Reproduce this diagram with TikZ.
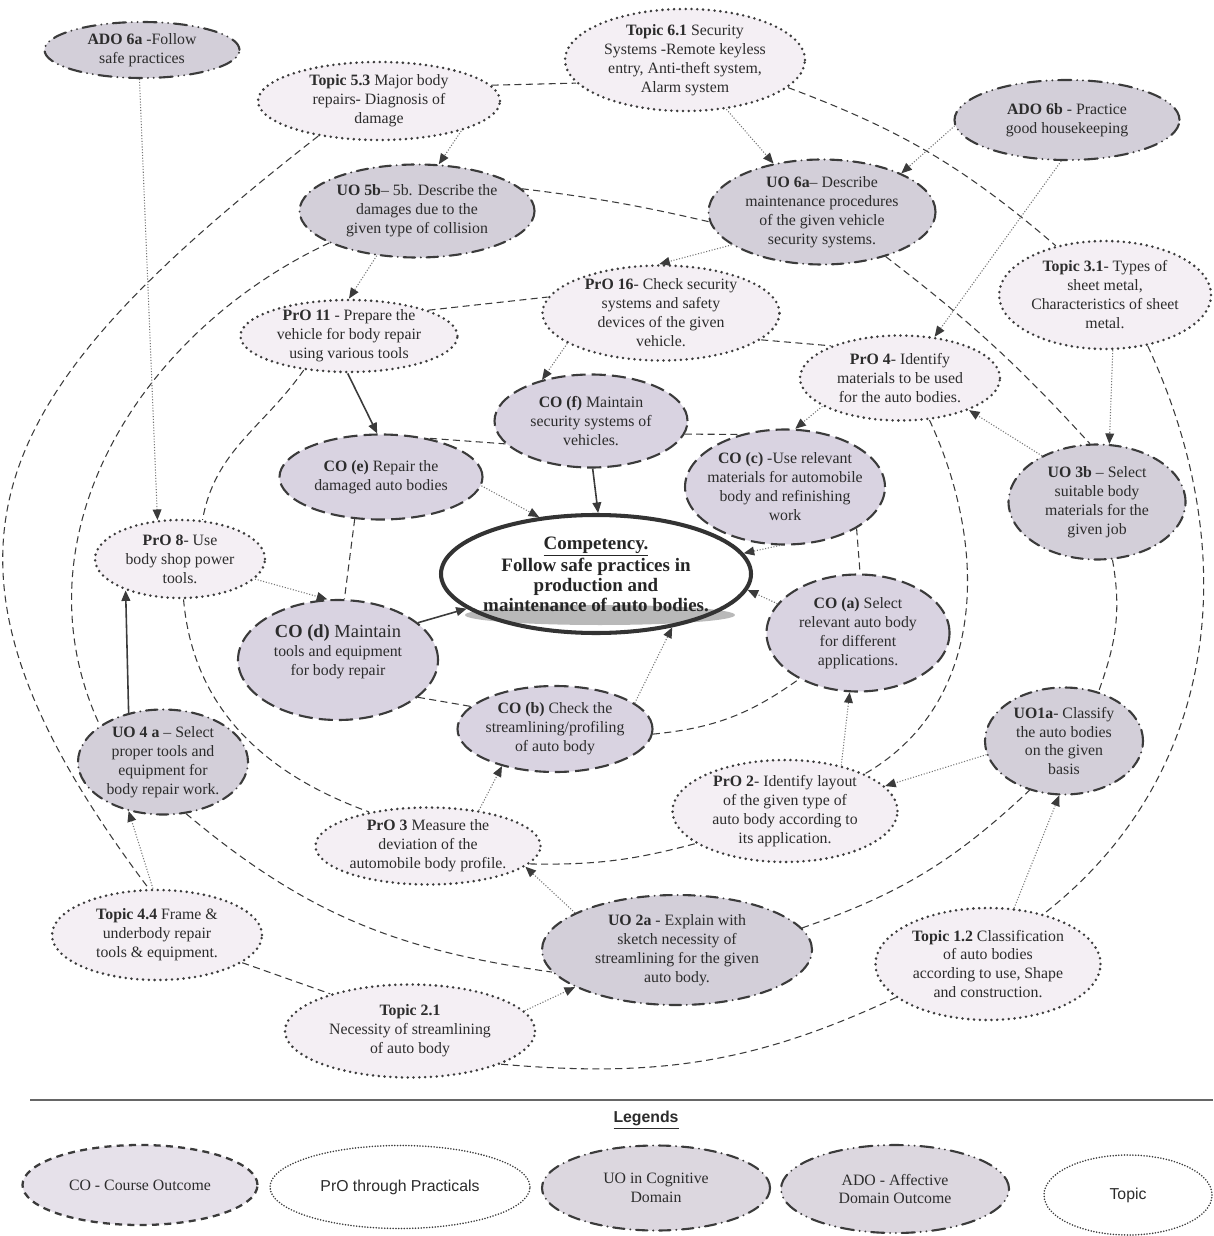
\documentclass[tikz,border=0pt]{standalone}
\usepackage{fontspec}
\setmainfont{Liberation Serif}
\newfontfamily\legendfont{Liberation Sans}
\usetikzlibrary{arrows.meta,calc,positioning,shapes}
\definecolor{edgegray}{HTML}{3B3B3B}
\definecolor{textgray}{HTML}{2C2C2C}
\definecolor{cofill}{HTML}{D9D3E1}
\definecolor{uofill}{HTML}{D3CFD9}
\definecolor{topicfill}{HTML}{F4EFF4}
\definecolor{legfill}{HTML}{E6E1EA}
\tikzstyle{bubble}=[
  ellipse,
  draw=edgegray,
  line width=1.2pt,
  inner sep=-4pt,
  align=center,
  text=textgray,
  font={\fontsize{9}{10.8}\selectfont},
]
\tikzstyle{co}=[bubble, fill=cofill, dash pattern=on 8pt off 3.5pt]
\tikzstyle{uo}=[bubble, fill=uofill, line cap=round,
  dash pattern=on 6.5pt off 3.3pt on 0pt off 3.3pt]
\tikzstyle{ado}=[bubble, fill=uofill, line cap=round,
  dash pattern=on 7.5pt off 3.3pt on 0pt off 3.3pt on 0pt off 3.3pt]
\tikzstyle{pro}=[bubble, fill=topicfill, line width=1.6pt, line cap=round,
  dash pattern=on 0pt off 3.3pt]
\tikzstyle{topic}=[pro]
\tikzstyle{comp}=[
  ellipse,
  draw=black!80,
  line width=2.3pt,
  inner xsep=-30pt,
  inner ysep=-10pt,
  align=center,
  text=black!85,
  font={\fontsize{10.8}{11.2}\selectfont\bfseries},
]
\tikzstyle{relation}=[
  draw=edgegray,
  line width=0.6pt,
  dash pattern=on 4pt off 2.5pt,
]
\tikzstyle{dotarrow}=[
  draw=black!55,
  line width=0.6pt,
  densely dotted,
  ->,
]
\tikzstyle{solidarrow}=[
  draw=edgegray,
  line width=0.9pt,
  ->,
]
\tikzstyle{legco}=[bubble, fill=legfill, line width=1.3pt, dash pattern=on 4pt off 3pt]
\tikzstyle{legdot}=[bubble, fill=white, line width=1pt, line cap=round,
  dash pattern=on 0pt off 1.6pt]
\tikzstyle{leguo}=[uo, fill=legfill!90!gray]
\tikzstyle{legado}=[ado, fill=legfill!90!gray]
\tikzset{
  dims/.style 2 args={minimum width=#1*0.02cm, minimum height=#2*0.02cm},
  >={Triangle[length=6pt,width=5pt,color=edgegray]},
}
\begin{document}
\begin{tikzpicture}[x=0.02cm, y=-0.02cm]
  \useasboundingbox [fill=white] (0,0) rectangle (1213,1236);
  \fill [gray!55] (600,615) ellipse [x radius=2.7cm, y radius=0.2cm];

  \node [ado, dims={195}{56}] (ADO6A) at (142,50) {\textbf{ADO 6a} -Follow\\safe practices};
  \node [topic, dims={242}{78}] (TOPIC53) at (379,101) {\textbf{Topic 5.3} Major body\\repairs- Diagnosis of\\damage};
  \node [topic, dims={240}{102}] (TOPIC61) at (685,60) {\textbf{Topic 6.1} Security\\Systems -Remote keyless\\entry, Anti-theft system,\\Alarm system};
  \node [ado, dims={225}{80}] (ADO6B) at (1067,120) {\textbf{ADO 6b} - Practice\\good housekeeping};
  \node [uo, dims={235}{93}] (UO5B) at (417,211) {\textbf{UO 5b}-- 5b. Describe the\\damages due to the\\given type of collision};
  \node [uo, dims={227}{105}] (UO6A) at (822,212) {\textbf{UO 6a}-- Describe\\maintenance procedures\\of the given vehicle\\security systems.};
  \node [topic, dims={212}{108}] (TOPIC31) at (1105,295) {\textbf{Topic 3.1}- Types of\\sheet metal,\\Characteristics of sheet\\metal.};
  \node [pro, dims={217}{72}] (PRO11) at (349,336) {\textbf{PrO 11} - Prepare the\\vehicle for body repair\\using various tools};
  \node [pro, dims={237}{95}] (PRO16) at (661,313) {\textbf{PrO 16}- Check security\\systems and safety\\devices of the given\\vehicle.};
  \node [pro, dims={200}{85}] (PRO4) at (900,378) {\textbf{PrO 4}- Identify\\materials to be used\\for the auto bodies.};
  \node [co, dims={193}{93}] (COF) at (591,421) {\textbf{CO (f)} Maintain\\security systems of\\vehicles.};
  \node [co, dims={203}{85}] (COE) at (381,477) {\textbf{CO (e)} Repair the\\damaged auto bodies};
  \node [co, dims={190}{115}] (COC) at (785,487) {\textbf{CO (c)} -Use relevant\\materials for automobile\\body and refinishing\\work};
  \node [uo, dims={177}{115}] (UO3B) at (1097,502) {\textbf{UO 3b} -- Select\\suitable body\\materials for the\\given job};
  \node [pro, dims={170}{78}] (PRO8) at (180,559) {\textbf{PrO 8}- Use\\body shop power\\tools.};
  \node [comp, dims={310}{118}] (COMP) at (596,574) {\underline{Competency.}\\Follow safe practices in\\production and\\maintenance of auto bodies.};
  \node [co, dims={200}{120}] (COD) at (338,660) {{\fontsize{10.5}{10.8}\selectfont\textbf{CO (d)} Maintain}\\tools and equipment\\for body repair\\ \mbox{}};
  \node [co, dims={183}{117}] (COA) at (858,633) {\textbf{CO (a)} Select\\relevant auto body\\for different\\applications.};
  \node [co, dims={195}{86}] (COB) at (555,729) {\textbf{CO (b)} Check the\\streamlining/profiling\\of auto body};
  \node [uo, dims={170}{105}] (UO4A) at (163,762) {\textbf{UO 4 a} -- Select\\proper tools and\\equipment for\\body repair work.};
  \node [uo, dims={158}{107}] (UO1A) at (1064,741) {\textbf{UO1a}- Classify\\the auto bodies\\on the given\\basis};
  \node [pro, dims={225}{102}] (PRO2) at (785,811) {\textbf{PrO 2}- Identify layout\\of the given type of\\auto body according to\\its application.};
  \node [pro, dims={225}{77}] (PRO3) at (428,846) {\textbf{PrO 3} Measure the\\deviation of the\\automobile body profile.};
  \node [topic, dims={210}{90}] (TOPIC44) at (157,935) {\textbf{Topic 4.4} Frame \&\\underbody repair\\tools \& equipment.};
  \node [uo, dims={270}{110}] (UO2A) at (677,950) {\textbf{UO 2a} - Explain with\\sketch necessity of\\streamlining for the given\\auto body.};
  \node [topic, dims={225}{112}] (TOPIC12) at (988,964) {\textbf{Topic 1.2} Classification\\of auto bodies\\according to use, Shape\\and construction.};
  \node [topic, dims={250}{93}] (TOPIC21) at (410,1031) {\textbf{Topic 2.1}\\Necessity of streamlining\\of auto body};

  \draw [relation] (TOPIC53.8) -- (TOPIC61.192);
  \draw [relation] (TOPIC61.-15) to [bend left=10] (TOPIC31.135);
  \draw [relation] (UO5B.12) to [bend left=3] (UO6A.185);
  \draw [relation] (UO6A.-35) to [bend left=5] (UO3B.97);
  \draw [relation] (PRO11.18) -- (PRO16.172);
  \draw [relation] (PRO16.-15) -- (PRO4.155);
  \draw [relation] (COF.195) -- (COE.40);
  \draw [relation] (COF.-8) -- (COC.130);
  \draw [relation] (COE.238) -- (COD.84);
  \draw [relation] (COC.-30) -- (COA.88);
  \draw [relation] (COD.-25) -- (COB.165);
  \draw [relation] (COB.-3) to [bend right=15] (COA.218);
  \draw [relation] (PRO3.-10) to [bend right=8] (PRO2.200);
  \draw [relation] (UO2A.10) to [bend right=12] (UO1A.235);
  \draw [relation] (TOPIC44.-18) -- (TOPIC21.155);
  \draw [relation] (TOPIC21.-20) to [out=-5, in=205] (TOPIC12.200);
  \draw [relation] (UO4A.-66) to [out=-40, in=172] (UO2A.190);
  \draw [relation] (PRO8.-85) to [out=-85, in=160] (PRO3.150);
  \draw [relation] (PRO11.217) to [out=-125, in=80] (PRO8.60);
  \draw [relation] (UO5B.200) to [out=-155, in=115] (UO4A.150);
  \draw [relation] (TOPIC53.210) to [out=-142, in=127, looseness=1.4] (TOPIC44.100);
  \draw [relation] (UO3B.-75) to [out=-80, in=70] (UO1A.55);
  \draw [relation] (PRO4.-55) to [out=-65, in=30] (PRO2.25);
  \draw [relation] (TOPIC31.-50) to [out=-65, in=38] (TOPIC12.42);

  \draw [dotarrow] (ADO6A.265) -- (PRO8.120);
  \draw [dotarrow] (TOPIC53.-20) -- (UO5B.65);
  \draw [dotarrow] (TOPIC61.-50) -- (UO6A.135);
  \draw [dotarrow] (ADO6B.183) -- (UO6A.26);
  \draw [dotarrow] (ADO6B.262) -- (PRO4.50);
  \draw [dotarrow] (UO6A.200) -- (PRO16.92);
  \draw [dotarrow] (UO5B.228) -- (PRO11.90);
  \draw [solidarrow] (PRO11.268) -- (COE.95);
  \draw [dotarrow] (PRO16.198) -- (COF.140);
  \draw [dotarrow] (PRO4.200) -- (COC.80);
  \draw [solidarrow] (COF.272) -- (COMP.88);
  \draw [dotarrow] (COE.-5) -- (COMP.135);
  \draw [dotarrow] (COC.265) -- (COMP.8);
  \draw [dotarrow] (COA.160) -- (COMP.-6);
  \draw [solidarrow] (COD.25) -- (COMP.195);
  \draw [dotarrow] (COB.18) -- (COMP.-35);
  \draw [dotarrow] (PRO8.-15) -- (COD.100);
  \draw [solidarrow] (UO4A.125) -- (PRO8.210);
  \draw [dotarrow] (TOPIC44.95) -- (UO4A.235);
  \draw [dotarrow] (PRO3.35) -- (COB.215);
  \draw [dotarrow] (UO2A.160) -- (PRO3.-12);
  \draw [dotarrow] (TOPIC21.10) -- (UO2A.200);
  \draw [dotarrow] (PRO2.39) -- (COA.262);
  \draw [dotarrow] (UO1A.190) -- (PRO2.14);
  \draw [dotarrow] (TOPIC12.65) -- (UO1A.265);
  \draw [dotarrow] (TOPIC31.-82) -- (UO3B.78);
  \draw [dotarrow] (UO3B.140) -- (PRO4.-25);

  \draw [line width=1.1pt, draw=black!60] (30,1100) -- (1213,1100);
  \node [font={\legendfont\bfseries\small}, text=textgray] (LEGENDS) at (646,1120) {\underline{Legends}};
  \node [legco, dims={235}{80}] (LCO) at (140,1185) {CO - Course Outcome};
  \node [legdot, dims={260}{83}] (LPRO) at (400,1187) {\legendfont PrO through Practicals};
  \node [leguo, dims={228}{85}] (LUO) at (656,1188) {UO in Cognitive\\Domain};
  \node [legado, dims={228}{88}] (LADO) at (895,1189) {ADO - Affective\\Domain Outcome};
  \node [legdot, dims={168}{80}] (LTOPIC) at (1128,1195) {\legendfont Topic};
\end{tikzpicture}
\end{document}
